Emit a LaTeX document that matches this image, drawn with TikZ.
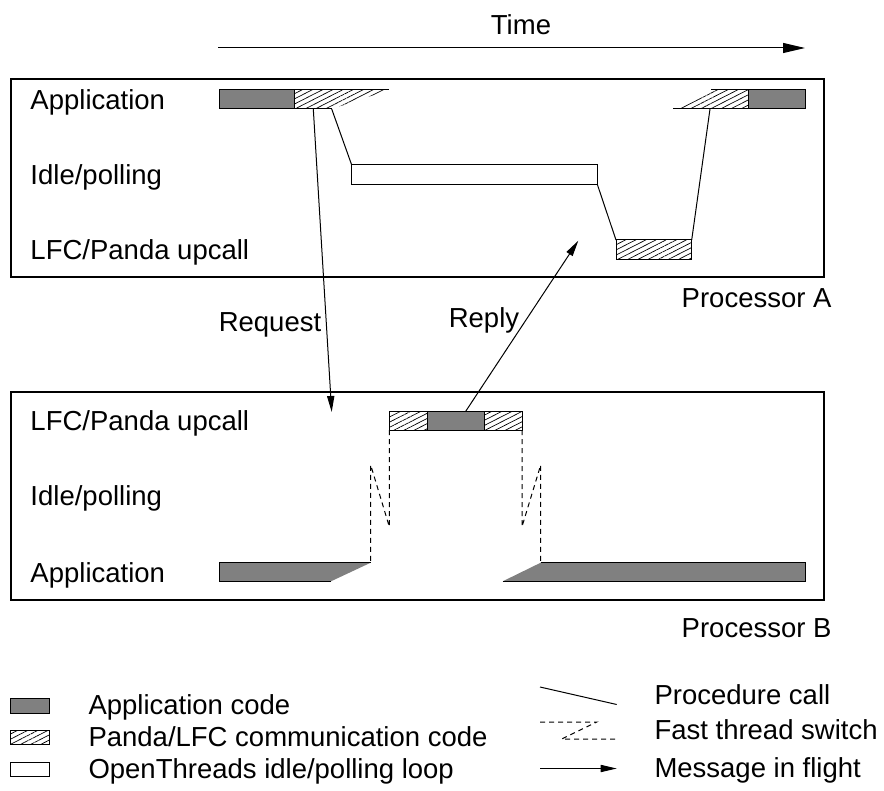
\documentclass[tikz,border=0pt]{standalone}
\usepackage{fontspec}
\setmainfont{Liberation Sans}
\usetikzlibrary{arrows.meta,patterns.meta}

\begin{document}
\begin{tikzpicture}[
        x=0.5pt, y=-0.5pt,
        font=\fontsize{13.75}{16}\selectfont,
        line width=0.5pt,
        rowlabel/.style={
            anchor=base west,
            inner sep=0pt
        },
        proclabel/.style={
            anchor=base east,
            inner sep=0pt
        },
        frame/.style={
            draw,
            line width=0.55pt
        },
        appcode/.style={
            fill=gray
        },
        comm/.style={
            pattern={Lines[angle=27,distance=2.3pt,line width=0.35pt]}
        },
        idlebox/.style={
            draw,
            fill=white
        },
        switch/.style={
            dash pattern=on 2.5pt off 2pt
        },
        msg/.style={
            -{Triangle[length=8pt,width=3.6pt]}
        },
        timearrow/.style={
            -{Triangle[length=11pt,width=5pt]}
        }
    ]

    \useasboundingbox (0,0) rectangle (884,791);

    % Time axis
    \coordinate (t0) at (218,48);
    \coordinate (t1) at (805,48);
    \draw[timearrow] (t0) -- (t1);
    \node[anchor=base, inner sep=0pt] (time) at (521,35) {Time};

    % Processor A
    \draw[frame] (11,79) rectangle (824,277);
    \node[rowlabel] (appA) at (30,109.5) {Application};
    \node[rowlabel] (idleA) at (30,184.5) {Idle/polling};
    \node[rowlabel] (upA) at (30,260) {LFC/Panda upcall};
    \node[proclabel] (procA) at (832,308) {Processor A};

    % application before the send
    \fill[appcode] (219,90) rectangle (294,109);
    \draw (294,90) -- (219,90) -- (219,109) -- (294,109) -- cycle;
    \fill[comm] (294,90) -- (389,90) -- (331.7,109) -- (294,109) -- cycle;
    \draw (294,90) -- (389,90);
    \draw (294,109) -- (331.7,109);
    \coordinate (sendA) at (313.3,109);
    \coordinate (callA) at (331.7,109);

    % idle loop
    \draw[idlebox] (351.7,165) rectangle (597.3,184.3);
    \coordinate (idleA1) at (351.7,165);
    \coordinate (idleA2) at (597.3,184.3);

    % upcall on A
    \fill[comm] (616,240) rectangle (691.7,260);
    \draw (616,240) rectangle (691.7,260);
    \coordinate (upA1) at (616,240);
    \coordinate (upA2) at (691.7,240);

    % application resumes
    \fill[comm] (711,90) -- (748.3,90) -- (748.3,109) -- (673.3,109) -- cycle;
    \draw (711,90) -- (748.3,90);
    \draw (673.3,109) -- (748.3,109);
    \fill[appcode] (748.3,90) rectangle (805,109);
    \draw (748.3,90) rectangle (805,109);
    \coordinate (backA) at (710,109);

    \draw (callA) -- (idleA1);
    \draw (idleA2) -- (upA1);
    \draw (upA2) -- (backA);

    % Processor B
    \draw[frame] (11,392) rectangle (824,600);
    \node[rowlabel] (upB) at (30,430.5) {LFC/Panda upcall};
    \node[rowlabel] (idleB) at (30,505) {Idle/polling};
    \node[rowlabel] (appB) at (30,582) {Application};
    \node[proclabel] (procB) at (832,637) {Processor B};

    % upcall on B
    \fill[comm] (389.3,411.3) rectangle (427.7,430);
    \fill[appcode] (427.7,411.3) rectangle (484,430);
    \fill[comm] (484,411.3) rectangle (522,430);
    \draw (389.3,411.3) rectangle (522,430);
    \draw (427.7,411.3) -- (427.7,430);
    \draw (484,411.3) -- (484,430);
    \coordinate (recvB) at (331.7,412);
    \coordinate (replyB) at (465.7,411.3);
    \coordinate (replyA) at (578.3,240.7);

    % application on B
    \fill[appcode] (219,562.7) -- (370.7,562.7) -- (331,581.3) -- (219,581.3) -- cycle;
    \draw (370.7,562.7) -- (219,562.7) -- (219,581.3) -- (331,581.3);
    \fill[appcode] (540.7,562.7) -- (805,562.7) -- (805,581.3) -- (502.7,581.3) -- cycle;
    \draw (540.7,562.7) -- (805,562.7) -- (805,581.3) -- (502.7,581.3);

    % thread switches
    \draw[switch] (389.3,430) -- (389.3,526.7) -- (370.7,465) -- (370.7,562.7);
    \draw[switch] (522,430) -- (522,526.7) -- (540.7,465) -- (540.7,562.7);

    % messages
    \draw[msg] (sendA) -- (recvB);
    \draw[msg] (replyB) -- (replyA);
    \node[anchor=base, inner sep=0pt] (req) at (270,332) {Request};
    \node[anchor=base, inner sep=0pt] (rep) at (484,328) {Reply};

    % Legend
    \fill[appcode] (10,698) rectangle (49,713);
    \draw (10,698) rectangle (49,713);
    \fill[comm] (10,730) rectangle (49,744);
    \draw (10,730) rectangle (49,744);
    \draw[idlebox] (10,762) rectangle (49,776);
    \node[rowlabel] (lapp) at (88,714) {Application code};
    \node[rowlabel] (lcomm) at (88,746) {Panda/LFC communication code};
    \node[rowlabel] (lidle) at (88,778) {OpenThreads idle/polling loop};

    \coordinate (pc0) at (540,687);
    \coordinate (pc1) at (616.7,704.5);
    \draw (pc0) -- (pc1);
    \draw[switch] (540,722) -- (596.7,722) -- (561.7,739) -- (616.7,739);
    \coordinate (m0) at (540,768.5);
    \coordinate (m1) at (616.7,768.5);
    \draw[msg] (m0) -- (m1);
    \node[rowlabel] (lcall) at (654,704) {Procedure call};
    \node[rowlabel] (lswitch) at (654,739) {Fast thread switch};
    \node[rowlabel] (lmsg) at (654,777.5) {Message in flight};

    \end{tikzpicture}
\end{document}
